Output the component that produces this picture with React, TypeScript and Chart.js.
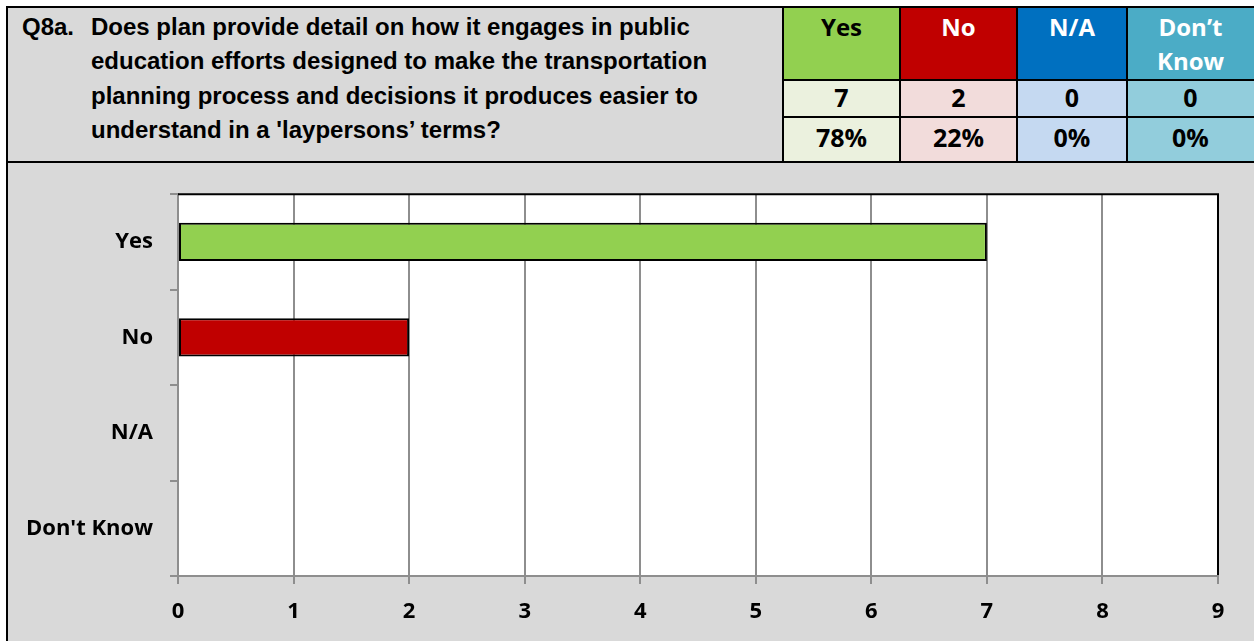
import React, { useEffect, useRef } from "react";
import { Chart, registerables } from "chart.js";

Chart.register(...registerables);

const categories = ["Yes", "No", "N/A", "Don't Know"];
const counts = [7, 2, 0, 0];
const headerLabels = ["Yes", "No", "N/A", "Don\u2019t Know"];
const percents = ["78%", "22%", "0%", "0%"];
const xTicks = [0, 1, 2, 3, 4, 5, 6, 7, 8, 9];
const questionLines = [
  "Does plan provide detail on how it engages in public",
  "education efforts designed to make the transportation",
  "planning process and decisions it produces easier to",
  "understand in a 'laypersons\u2019 terms?",
];

const barColors = ["#92d050", "#c00000", "#0070c0", "#4bacc6"];
const headTextColors = ["#000", "#fff", "#fff", "#fff"];
const cellColors = ["#ebf1de", "#f2dcdb", "#c5d9f1", "#92cddc"];
const colX = [783, 900, 1017, 1127, 1254];
const GRAY = "#8e8e8e";
const FONT = "'Open Sans', Lato, sans-serif";

const plotFrame = {
  id: "plotFrame",
  beforeDraw(chart: any) {
    const { ctx, chartArea: a } = chart;
    ctx.save();
    ctx.fillStyle = "#ffffff";
    ctx.fillRect(a.left, a.top, a.right - a.left, a.bottom - a.top);
    ctx.restore();
  },
  afterDraw(chart: any) {
    const { ctx, chartArea: a } = chart;
    ctx.save();
    ctx.strokeStyle = "#000";
    ctx.lineWidth = 2;
    ctx.beginPath();
    ctx.moveTo(a.left, a.top);
    ctx.lineTo(a.right, a.top);
    ctx.lineTo(a.right, a.bottom - 1);
    ctx.stroke();
    ctx.restore();
  },
};

function BarChart() {
  const ref = useRef<HTMLCanvasElement>(null);
  useEffect(() => {
    if (!ref.current) return;
    const chart = new Chart(ref.current, {
      type: "bar",
      data: {
        labels: categories,
        datasets: [
          {
            data: counts,
            backgroundColor: barColors,
            borderColor: "#000",
            borderWidth: 2,
            borderSkipped: false,
            categoryPercentage: 0.8,
            barPercentage: 0.5,
          },
        ],
      },
      options: {
        indexAxis: "y",
        responsive: false,
        animation: false,
        devicePixelRatio: 1,
        layout: { padding: { top: 28, right: 36, left: 0, bottom: 0 } },
        plugins: { legend: { display: false }, tooltip: { enabled: false } },
        scales: {
          y: {
            type: "category",
            afterFit: (s: any) => {
              s.width = 170;
            },
            grid: {
              offset: true,
              drawOnChartArea: false,
              drawTicks: true,
              tickLength: 8,
              color: GRAY,
              lineWidth: 2,
            },
            border: { display: true, color: GRAY, width: 2 },
            ticks: {
              color: "#000",
              padding: 17,
              font: { family: FONT, size: 22, weight: "bold" },
            },
          },
          x: {
            type: "linear",
            min: 0,
            max: 9,
            afterFit: (s: any) => {
              s.height = 65;
            },
            afterBuildTicks: (s: any) => {
              s.ticks = xTicks.map((v) => ({ value: v }));
            },
            grid: {
              color: GRAY,
              lineWidth: 2,
              tickLength: 8,
              drawTicks: true,
            },
            border: { display: true, color: GRAY, width: 2 },
            ticks: {
              color: "#000",
              padding: 15,
              stepSize: 1,
              font: { family: FONT, size: 22, weight: "bold" },
            },
          },
        },
      },
      plugins: [plotFrame],
    } as any);
    return () => chart.destroy();
  }, []);
  return <canvas ref={ref} width={1246} height={477} style={{ display: "block" }} />;
}

const abs = (l: number, t: number, w: number, h: number, extra: any = {}) => ({
  position: "absolute" as const,
  left: l,
  top: t,
  width: w,
  height: h,
  ...extra,
});

export default function App() {
  const lines: React.ReactNode[] = [];
  lines.push(<div key="h0" style={abs(6, 6, 1248, 2, { background: "#000" })} />);
  lines.push(<div key="h1" style={abs(783, 79, 471, 2, { background: "#000" })} />);
  lines.push(<div key="h2" style={abs(783, 116, 471, 2, { background: "#000" })} />);
  lines.push(<div key="h3" style={abs(6, 161, 1248, 2, { background: "#000" })} />);
  lines.push(<div key="v0" style={abs(6, 6, 2, 635, { background: "#000" })} />);
  colX.slice(0, 4).forEach((x, i) => {
    lines.push(<div key={"v" + (i + 1)} style={abs(x - 1, 6, 2, 156, { background: "#000" })} />);
  });

  return (
    <div style={{ position: "fixed", left: 0, top: 0, width: 1254, height: 641, background: "#fff", overflow: "hidden" }}>
      <div
        style={abs(8, 8, 775, 153, {
          background: "#d9d9d9",
          fontFamily: "'Liberation Sans', Arial, sans-serif",
          fontWeight: "bold",
          fontSize: 24,
          lineHeight: "34px",
          color: "#000",
          whiteSpace: "nowrap",
        })}
      >
        {questionLines.map((ln, i) => (
          <div key={i} style={{ position: "absolute", left: 83, top: 2 + Math.round(i * 34.3) }}>
            {i === 0 && <span style={{ position: "absolute", left: -69 }}>Q8a.</span>}
            {ln}
          </div>
        ))}
      </div>
      {headerLabels.map((h, i) => {
        const x0 = colX[i];
        const w = colX[i + 1] - x0;
        const parts = h.split(" ");
        return (
          <React.Fragment key={i}>
            <div
              style={abs(x0, 8, w, 72, {
                background: barColors[i],
                color: headTextColors[i],
                fontFamily: FONT,
                fontWeight: "bold",
                fontSize: 24,
                lineHeight: "34px",
                textAlign: "center",
                paddingTop: 2,
                boxSizing: "border-box",
              })}
            >
              {parts.map((p, j) => (
                <div key={j}>{p}</div>
              ))}
            </div>
            <div
              style={abs(x0, 80, w, 37, {
                background: cellColors[i],
                fontFamily: FONT,
                fontWeight: "bold",
                fontSize: 25,
                display: "flex",
                alignItems: "center",
                justifyContent: "center",
                color: "#000",
                paddingBottom: 3,
                boxSizing: "border-box",
              })}
            >
              {counts[i]}
            </div>
            <div
              style={abs(x0, 117, w, 45, {
                background: cellColors[i],
                fontFamily: FONT,
                fontWeight: "bold",
                fontSize: 25,
                display: "flex",
                alignItems: "center",
                justifyContent: "center",
                color: "#000",
                paddingBottom: 5,
                boxSizing: "border-box",
              })}
            >
              {percents[i]}
            </div>
          </React.Fragment>
        );
      })}
      <div style={abs(8, 163, 1246, 478, { background: "#d9d9d9" })}>
        <div style={{ position: "absolute", left: 0, top: 1 }}>
          <BarChart />
        </div>
      </div>
      {lines}
    </div>
  );
}
